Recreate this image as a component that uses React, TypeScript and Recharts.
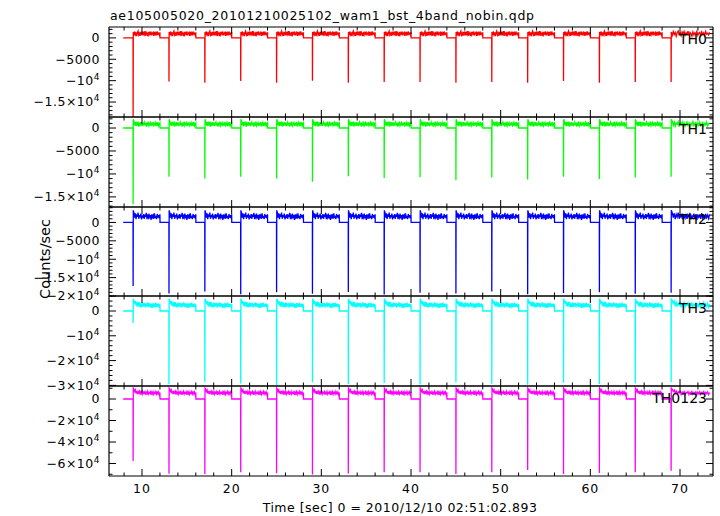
import { LineChart, Line, XAxis, YAxis } from 'recharts';

const FONT = '"DejaVu Sans", Verdana, sans-serif';

// start of each 4 s cycle (spike + high plateau)
const cycleStarts = [9, 13, 17, 21, 25, 29, 33, 37, 41, 45, 49, 53, 57, 61, 65, 69];
const timeTicks = [8, 10, 12, 14, 16, 18, 20, 22, 24, 26, 28, 30, 32, 34, 36, 38, 40, 42, 44, 46, 48, 50, 52, 54, 56, 58, 60, 62, 64, 66, 68, 70, 72];
const timeMajors = [10, 20, 30, 40, 50, 60, 70];

// TH0
const th0Spikes = [-18600, -10200, -10500, -10100, -10500, -10000, -10500, -10300, -10300, -10500, -10300, -10500, -10100, -10500, -10300, -10300];
const th0Plateau = [1400, 600, 1500, 800, 1300, 400, 1200, 1600, 700, 1100, 500, 1400, 900, 1500, 600, 1200, 800, 1600, 500, 1300, 1000, 400, 1400, 700, 1200, 900, 1500, 600, 1100, 1300, 500, 1400, 800, 1200, 600, 1500, 900, 1100, 700, 1300];
const th0Ticks = [2000, 1000, 0, -1000, -2000, -3000, -4000, -5000, -6000, -7000, -8000, -9000, -10000, -11000, -12000, -13000, -14000, -15000, -16000, -17000, -18000];
const th0Majors = [0, -5000, -10000, -15000];
const th0Labels = ['0', '−5000', '−10^4', '−1.5×10^4'];

// TH1
const th1Spikes = [-16600, -10600, -11000, -10600, -11000, -11700, -10500, -10900, -10700, -11400, -10800, -11200, -10600, -11100, -10800, -10600];
const th1Plateau = [1900, 1500, 600, 1300, 400, 1100, 800, 1400, 300, 1000, 700, 1300, 500, 1200, 400, 900, 1300, 600, 1100, 300, 1000, 700, 1400, 500, 900, 1200, 400, 1100, 600, 1300, 500, 800, 1200, 400, 1000, 700, 1300, 500, 900, 1100];
const th1Ticks = [2000, 1000, 0, -1000, -2000, -3000, -4000, -5000, -6000, -7000, -8000, -9000, -10000, -11000, -12000, -13000, -14000, -15000, -16000, -17000];
const th1Majors = [0, -5000, -10000, -15000];
const th1Labels = ['0', '−5000', '−10^4', '−1.5×10^4'];

// TH2
const th2Spikes = [-17300, -19300, -18800, -19500, -19000, -19400, -18900, -19600, -19100, -19300, -18800, -19500, -19200, -19000, -19400, -19100];
const th2Plateau = [3300, 2600, 1300, 2500, 900, 2200, 1500, 2700, 1000, 2000, 1400, 2400, 800, 1900, 1200, 2300, 1000, 2100, 1500, 2600, 900, 1800, 1300, 2400, 1100, 2000, 700, 2200, 1400, 1900, 1000, 2500, 1200, 1800, 900, 2300, 1300, 2000, 1100, 2200];
const th2Ticks = [4000, 3000, 2000, 1000, 0, -1000, -2000, -3000, -4000, -5000, -6000, -7000, -8000, -9000, -10000, -11000, -12000, -13000, -14000, -15000, -16000, -17000, -18000, -19000, -20000];
const th2Majors = [0, -5000, -10000, -15000, -20000];
const th2Labels = ['0', '−5000', '−10^4', '−1.5×10^4', '−2×10^4'];

// TH3
const th3Spikes = [-4800, -29500, -28600, -29200, -29800, -28700, -29400, -29000, -29600, -28800, -29300, -29700, -28900, -29400, -29100, -28600];
const th3Plateau = [5000, 4200, 3000, 4000, 2200, 3500, 1800, 3200, 2400, 3600, 1500, 3000, 2100, 3400, 1700, 2800, 2300, 3300, 1400, 2900, 2000, 3500, 1600, 2700, 2200, 3100, 1300, 2800, 1900, 3200, 1500, 2600, 2100, 3400, 1700, 2900, 1800, 3000, 1400, 2700];
const th3Ticks = [6000, 4000, 2000, 0, -2000, -4000, -6000, -8000, -10000, -12000, -14000, -16000, -18000, -20000, -22000, -24000, -26000, -28000, -30000];
const th3Majors = [0, -10000, -20000, -30000];
const th3Labels = ['0', '−10^4', '−2×10^4', '−3×10^4'];

// TH0123
const th0123Spikes = [-57700, -69500, -69800, -68000, -69000, -70200, -69200, -68000, -68200, -69800, -68200, -66000, -69800, -68800, -68200, -66700];
const th0123Plateau = [10000, 9000, 7000, 8400, 5200, 7400, 4600, 6800, 5600, 7200, 4200, 6500, 5000, 7000, 4400, 6300, 5400, 6900, 4000, 6200, 5100, 7100, 4500, 6000, 5300, 6700, 3900, 6400, 4800, 6800, 4300, 6100, 5200, 7000, 4600, 6300, 4900, 6600, 4100, 6000];
const th0123Ticks = [10000, 0, -10000, -20000, -30000, -40000, -50000, -60000, -70000];
const th0123Majors = [0, -20000, -40000, -60000];
const th0123Labels = ['0', '−2×10^4', '−4×10^4', '−6×10^4'];

const X_DOMAIN: [number, number] = [6.32, 73.68];

type Panel = {
  name: string;
  color: string;
  spikes: number[];
  plateau: number[];
  domain: [number, number];
  ticks: number[];
  majors: number[];
  labels: string[];
  top: number;
  height: number;
};

const panels: Panel[] = [
  { name: 'TH0', color: '#ff0000', spikes: th0Spikes, plateau: th0Plateau, domain: [-18500, 2550], ticks: th0Ticks, majors: th0Majors, labels: th0Labels, top: 27, height: 90 },
  { name: 'TH1', color: '#00ff00', spikes: th1Spikes, plateau: th1Plateau, domain: [-17200, 2400], ticks: th1Ticks, majors: th1Majors, labels: th1Labels, top: 117, height: 90 },
  { name: 'TH2', color: '#0000ff', spikes: th2Spikes, plateau: th2Plateau, domain: [-20000, 4200], ticks: th2Ticks, majors: th2Majors, labels: th2Labels, top: 207, height: 89 },
  { name: 'TH3', color: '#00ffff', spikes: th3Spikes, plateau: th3Plateau, domain: [-30250, 6050], ticks: th3Ticks, majors: th3Majors, labels: th3Labels, top: 296, height: 90 },
  { name: 'TH0123', color: '#ff00ff', spikes: th0123Spikes, plateau: th0123Plateau, domain: [-71600, 12100], ticks: th0123Ticks, majors: th0123Majors, labels: th0123Labels, top: 386, height: 90 },
];

// zero level, spike at each cycle start, then the noisy high plateau
function buildSeries(p: Panel) {
  const pts: { t: number; v: number }[] = [{ t: 7.9, v: 0 }];
  cycleStarts.forEach((s, i) => {
    const last = i === cycleStarts.length - 1;
    const dur = last ? 4.3 : 3;
    pts.push({ t: s, v: 0 });
    pts.push({ t: s + 0.01, v: p.spikes[i] });
    const n = p.plateau.length;
    p.plateau.forEach((v, k) => {
      pts.push({ t: s + 0.03 + (k * (dur - 0.03)) / (n - 1), v });
    });
    if (!last) pts.push({ t: s + dur + 0.01, v: 0 });
  });
  return pts;
}

function SciText({ x, y, label, anchor = 'end' }: { x: number; y: number; label: string; anchor?: string }) {
  const [base, exp] = label.split('^');
  return (
    <text x={x} y={y} textAnchor={anchor} fontFamily={FONT} fontSize={12.5} letterSpacing={0.5} fill="#000">
      {base}
      {exp && (
        <tspan dy={-5} fontSize={9}>
          {exp}
        </tspan>
      )}
    </text>
  );
}

const MAJOR = 7;
const MINOR = 3.5;
const AXIS = { stroke: '#000', strokeWidth: 1.2 };

function PanelChart({ p, last }: { p: Panel; last: boolean }) {
  const data = buildSeries(p);
  const padTop = 4;
  const padBottom = last ? 40 : 4;

  const leftTick = (props: any) => {
    const { x, y, payload } = props;
    const i = p.majors.indexOf(payload.value);
    return (
      <g>
        <line x1={x} x2={x + (i >= 0 ? MAJOR : MINOR)} y1={y} y2={y} stroke="#000" />
        {i >= 0 && <SciText x={x - 9} y={y + 4.3} label={p.labels[i]} />}
      </g>
    );
  };
  const rightTick = (props: any) => {
    const { x, y, payload } = props;
    const major = p.majors.includes(payload.value);
    return <line x1={x} x2={x - (major ? MAJOR : MINOR)} y1={y} y2={y} stroke="#000" />;
  };
  const bottomTick = (props: any) => {
    const { x, y, payload } = props;
    const major = timeMajors.includes(payload.value);
    return (
      <g>
        <line x1={x} x2={x} y1={y} y2={y - (major ? MAJOR : MINOR)} stroke="#000" />
        {last && major && (
          <text x={x} y={y + 16.5} textAnchor="middle" fontFamily={FONT} fontSize={12.5} letterSpacing={1} fill="#000">
            {payload.value}
          </text>
        )}
      </g>
    );
  };
  const topTick = (props: any) => {
    const { x, y, payload } = props;
    const major = timeMajors.includes(payload.value);
    return <line x1={x} x2={x} y1={y} y2={y + (major ? MAJOR : MINOR)} stroke="#000" />;
  };

  return (
    <div style={{ position: 'absolute', left: 0, top: p.top - padTop }}>
      <LineChart width={720} height={p.height + padTop + padBottom} data={data} margin={{ top: 0, right: 0, bottom: 0, left: 0 }}>
        <XAxis dataKey="t" type="number" domain={X_DOMAIN} allowDataOverflow ticks={timeTicks} interval={0} height={padBottom} tickSize={0} tickMargin={0} tickLine={false} axisLine={AXIS} tick={bottomTick} />
        <XAxis xAxisId="top" orientation="top" dataKey="t" type="number" domain={X_DOMAIN} allowDataOverflow ticks={timeTicks} interval={0} height={padTop} tickSize={0} tickMargin={0} tickLine={false} axisLine={AXIS} tick={topTick} />
        <YAxis type="number" domain={p.domain} allowDataOverflow ticks={p.ticks} interval={0} width={109} tickSize={0} tickMargin={0} tickLine={false} axisLine={AXIS} tick={leftTick} />
        <YAxis yAxisId="right" orientation="right" type="number" domain={p.domain} allowDataOverflow ticks={p.ticks} interval={0} width={7} tickSize={0} tickMargin={0} tickLine={false} axisLine={AXIS} tick={rightTick} />
        <Line dataKey="v" stroke={p.color} strokeWidth={1.3} dot={false} activeDot={false} isAnimationActive={false} />
        <Line xAxisId="top" yAxisId="right" dataKey="v" stroke="none" dot={false} activeDot={false} isAnimationActive={false} legendType="none" />
      </LineChart>
    </div>
  );
}

export default function App() {
  return (
    <div style={{ position: 'absolute', left: 0, top: 0, width: 720, height: 516, background: '#fff', overflow: 'hidden' }}>
      <style>{'.recharts-surface{overflow:visible}'}</style>
      {panels.map((p, i) => (
        <PanelChart key={p.name} p={p} last={i === panels.length - 1} />
      ))}
      <svg width={720} height={516} style={{ position: 'absolute', left: 0, top: 0, pointerEvents: 'none' }}>
        <text x={110} y={20} fontFamily={FONT} fontSize={12.5} letterSpacing={0.7} fill="#000">
          ae105005020_20101210025102_wam1_bst_4band_nobin.qdp
        </text>
        {panels.map((p) => (
          <text key={p.name} x={707} y={p.top + 16.5} textAnchor="end" fontFamily={FONT} fontSize={14} fill="#000">
            {p.name}
          </text>
        ))}
        <text x={50} y={259} transform="rotate(-90 50 259)" textAnchor="middle" fontFamily={FONT} fontSize={14.5} fill="#000">
          Counts/sec
        </text>
        <text x={400} y={511.5} textAnchor="middle" fontFamily={FONT} fontSize={12.5} letterSpacing={0.5} fill="#000">
          Time [sec] 0 = 2010/12/10 02:51:02.893
        </text>
      </svg>
    </div>
  );
}
